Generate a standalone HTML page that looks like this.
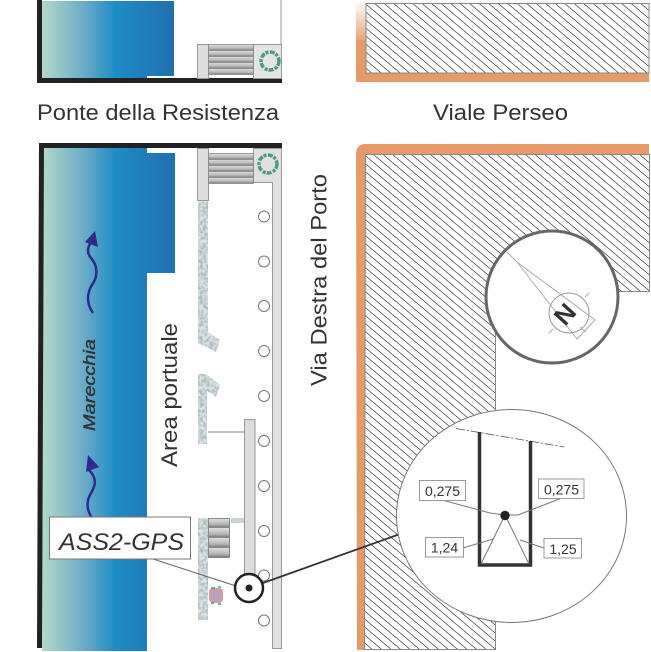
<!DOCTYPE html>
<html><head><meta charset="utf-8"><style>
html,body{margin:0;padding:0;background:#fff}
svg{display:block}
text{font-family:"Liberation Sans",sans-serif;fill:#333}
</style></head><body>
<svg width="651" height="652" viewBox="0 0 651 652" xmlns="http://www.w3.org/2000/svg">
<defs>
<linearGradient id="w" x1="42" x2="175" y1="0" y2="0" gradientUnits="userSpaceOnUse">
<stop offset="0" stop-color="#b2d9c9"/><stop offset="0.3" stop-color="#70aec8"/><stop offset="0.55" stop-color="#1f8cc5"/><stop offset="1" stop-color="#1f70ae"/>
</linearGradient>
<linearGradient id="o" x1="0" x2="0" y1="0" y2="45" gradientUnits="userSpaceOnUse">
<stop offset="0" stop-color="#fff"/><stop offset="1" stop-color="#e69a6a"/>
</linearGradient>
<linearGradient id="s" x1="0" x2="0" y1="0" y2="1">
<stop offset="0" stop-color="#e2e2e2"/><stop offset="0.65" stop-color="#b4b4b4"/><stop offset="1" stop-color="#777"/>
</linearGradient>
<pattern id="h" width="9.5" height="8" patternUnits="userSpaceOnUse">
<path d="M-9.500,-8 L19,16 M-9.500,-16 L19,8 M-9.500,0 L19,24" stroke="#444" stroke-width="0.700" fill="none"/>
</pattern>
<filter id="g" x="0" y="0" width="100%" height="100%" color-interpolation-filters="sRGB">
<feTurbulence type="fractalNoise" baseFrequency="0.3" numOctaves="2" seed="4"/>
<feColorMatrix values="0 0 0 0 0.66 0 0 0 0 0.72 0 0 0 0 0.74 2.6 0 0 0 -0.9"/>
<feComposite in2="SourceGraphic" operator="in"/>
<feMerge><feMergeNode in="SourceGraphic"/><feMergeNode/></feMerge>
</filter>
</defs>

<!-- top water -->
<path d="M42,1H174V76H147V78H42Z" fill="url(#w)"/>
<path d="M39.500,0V80.500H282" fill="none" stroke="#222" stroke-width="5"/>
<path d="M281,0V44" stroke="#999" stroke-width="1"/>
<g stroke="#999" stroke-width="1">
<rect x="197.500" y="44.500" width="11" height="34" fill="#ddd"/>
<rect x="253.500" y="44.500" width="28" height="34" fill="#e4e4e4"/>
</g>
<g stroke="#888" stroke-width="0.800">
<rect x="208.500" y="44.500" width="45" height="6" fill="url(#s)"/>
<rect x="208.500" y="50.500" width="45" height="6" fill="url(#s)"/>
<rect x="208.500" y="56.500" width="45" height="6" fill="url(#s)"/>
<rect x="208.500" y="62.500" width="45" height="6" fill="url(#s)"/>
<rect x="208.500" y="68.500" width="45" height="6" fill="url(#s)"/>
</g>
<circle cx="270" cy="61" r="9" fill="none" stroke="#4f9c7c" stroke-width="3.500" stroke-dasharray="5 1 3 1.500"/>

<text x="37" y="120" font-size="22" textLength="242" lengthAdjust="spacingAndGlyphs">Ponte della Resistenza</text>
<text x="433" y="120" font-size="22" textLength="135" lengthAdjust="spacingAndGlyphs">Viale Perseo</text>

<!-- lower water -->
<path d="M42,148H147V153H175V273H147V651H42Z" fill="url(#w)"/>
<path d="M39.500,648L41.500,145.500H282" fill="none" stroke="#222" stroke-width="5"/>

<!-- stairs lower -->
<g stroke="#999" stroke-width="1">
<rect x="197.500" y="148.500" width="11" height="52" fill="#ddd"/>
<path d="M253.500,148.500H281.500V648.500H272.500V182.500H253.500Z" fill="#e0e0e0"/>
</g>
<g stroke="#888" stroke-width="0.800">
<rect x="208.500" y="153.500" width="45" height="6" fill="url(#s)"/>
<rect x="208.500" y="159.500" width="45" height="6" fill="url(#s)"/>
<rect x="208.500" y="165.500" width="45" height="6" fill="url(#s)"/>
<rect x="208.500" y="171.500" width="45" height="6" fill="url(#s)"/>
<rect x="208.500" y="177.500" width="45" height="6" fill="url(#s)"/>
</g>
<circle cx="268" cy="164" r="9" fill="none" stroke="#4f9c7c" stroke-width="3.500" stroke-dasharray="5 1 3 1.500"/>

<!-- granite -->
<g fill="#dfe3e3" filter="url(#g)">
<path d="M198,201H208V332L220,340L216,352L198,343Z"/>
</g>
<g fill="#dfe3e3" filter="url(#g)">
<path d="M198,374H206L220,385L216,397L207,391V444H198Z"/>
</g>
<g fill="#dfe3e3" filter="url(#g)">
<path d="M198,518H208V620H198Z"/>
</g>
<rect x="208" y="431" width="36" height="2" fill="#b6c2c4"/>
<rect x="231" y="518" width="13" height="5" fill="#c8d0d0"/>
<g stroke="#888" stroke-width="1">
<rect x="208.500" y="518.500" width="21" height="9" fill="url(#s)"/>
<rect x="208.500" y="527.500" width="21" height="10" fill="url(#s)"/>
<rect x="208.500" y="537.500" width="21" height="10" fill="url(#s)"/>
<rect x="208.500" y="547.500" width="21" height="10" fill="url(#s)"/>
</g>
<rect x="209" y="588" width="14" height="15" rx="4" fill="#d79aa8"/>
<rect x="213" y="591" width="7" height="9" fill="#a9a7c4"/>
<path d="M211,588h4M218,587h3M211,603h3M218,604h3" stroke="#3fa06a" stroke-width="1.500"/>

<!-- long bar -->
<rect x="244.500" y="419.500" width="10.500" height="160" fill="#dcdcdc" stroke="#999"/>

<!-- lamps -->
<g fill="#fff" stroke="#777" stroke-width="1">
<circle cx="264" cy="216.500" r="5.500"/><circle cx="264" cy="261.500" r="5.500"/><circle cx="264" cy="306" r="5.500"/>
<circle cx="264" cy="351" r="5.500"/><circle cx="264" cy="396" r="5.500"/><circle cx="264" cy="441" r="5.500"/>
<circle cx="264" cy="486" r="5.500"/><circle cx="264" cy="531" r="5.500"/><circle cx="264" cy="575.500" r="5.500"/>
<circle cx="264" cy="620.500" r="5.500"/>
</g>

<!-- flow arrows -->
<g fill="none" stroke="#2f2a8c" stroke-width="2.500">
<path d="M93,313C86,303 87,293 92,285C99,275 97,265 91,258C86,252 88,246 92,241"/>
<path d="M89,470C99,480 94,488 90,495C86,503 87,510 92,518"/>
</g>
<path d="M95,231L98,247L85,242Z" fill="#2f2a8c"/>
<path d="M88,455L99,467L86,472Z" fill="#2f2a8c"/>

<text transform="translate(95,431) rotate(-90)" font-size="16.500" font-style="italic" stroke="#333" stroke-width="0.400" textLength="92" lengthAdjust="spacingAndGlyphs">Marecchia</text>
<text transform="translate(177,467) rotate(-90)" font-size="22" textLength="144" lengthAdjust="spacingAndGlyphs">Area portuale</text>
<text transform="translate(326.500,386) rotate(-90)" font-size="22" textLength="212" lengthAdjust="spacingAndGlyphs">Via Destra del Porto</text>

<!-- callout -->
<path d="M150,558L236,586" stroke="#666" stroke-width="1"/>
<rect x="49.500" y="517" width="141" height="42" fill="#fff" stroke="#777" stroke-width="1"/>
<text x="59" y="550" font-size="24" font-style="italic" textLength="125" lengthAdjust="spacingAndGlyphs">ASS2-GPS</text>

<!-- hatch and sidewalks -->
<path d="M361,82V0" stroke="url(#o)" stroke-width="10" fill="none"/>
<path d="M356,40V73Q356,82 365,82H649V73H366V40Z" fill="#e69a6a"/>
<rect x="366" y="3.500" width="283" height="69.500" fill="url(#h)" stroke="#888" stroke-width="1"/>
<path d="M357,650L356,154Q356,144 366,144H649V154H365.500L364,650Z" fill="#e69a6a"/>
<path d="M365.500,154.500H649.500V291.500H600V325H495.500V649.500H364.500Z" fill="url(#h)" stroke="#888" stroke-width="1"/>

<!-- compass -->
<circle cx="552" cy="297" r="66" fill="#fff" stroke="#666" stroke-width="3"/>
<g fill="none" stroke="#aaa" stroke-width="1">
<path d="M517,262L595,320L577,339Z"/>
<circle cx="569" cy="313" r="20" stroke="#999"/>
<path d="M507,252L517,262M549,333L553,329M585,297L589,293M580,327L586,332"/>
</g>
<text transform="translate(565,327) rotate(-48)" font-size="25" font-weight="bold" style="fill:#333" textLength="19" lengthAdjust="spacingAndGlyphs">N</text>

<!-- leader to detail -->
<path d="M263,583L400,534" stroke="#333" stroke-width="1.800"/>
<circle cx="249" cy="588" r="14" fill="#fff" stroke="#222" stroke-width="2.500"/>
<circle cx="249" cy="588" r="3.500" fill="#222"/>

<!-- detail -->
<ellipse cx="511.500" cy="516" rx="115" ry="106.500" fill="#fff" stroke="#777" stroke-width="1"/>
<path d="M456,428.500L564,447" stroke="#555" stroke-width="0.800" stroke-dasharray="9 2 2 2"/>
<path d="M479.500,432V565H530.500V441" fill="none" stroke="#333" stroke-width="3.500"/>
<g fill="none" stroke="#777" stroke-width="1">
<path d="M442,500L490,513L505,515L518,515L562,498"/>
<path d="M463,548L493,539M505,515L481,564M505,515L529,564M520,540L544,548"/>
</g>
<circle cx="505" cy="515.500" r="4.700" fill="#222"/>
<g fill="#fff" stroke="#999" stroke-width="1">
<rect x="419.500" y="480.500" width="46" height="20"/>
<rect x="538.500" y="479" width="45.500" height="19.500"/>
<rect x="425.500" y="537.500" width="38" height="19.500"/>
<rect x="544" y="538.500" width="37.500" height="19.500"/>
</g>
<g font-size="14" text-anchor="middle">
<text x="442.500" y="496">0,275</text>
<text x="561.500" y="494.500">0,275</text>
<text x="444.500" y="552.500">1,24</text>
<text x="563" y="554">1,25</text>
</g>
</svg>
</body></html>
